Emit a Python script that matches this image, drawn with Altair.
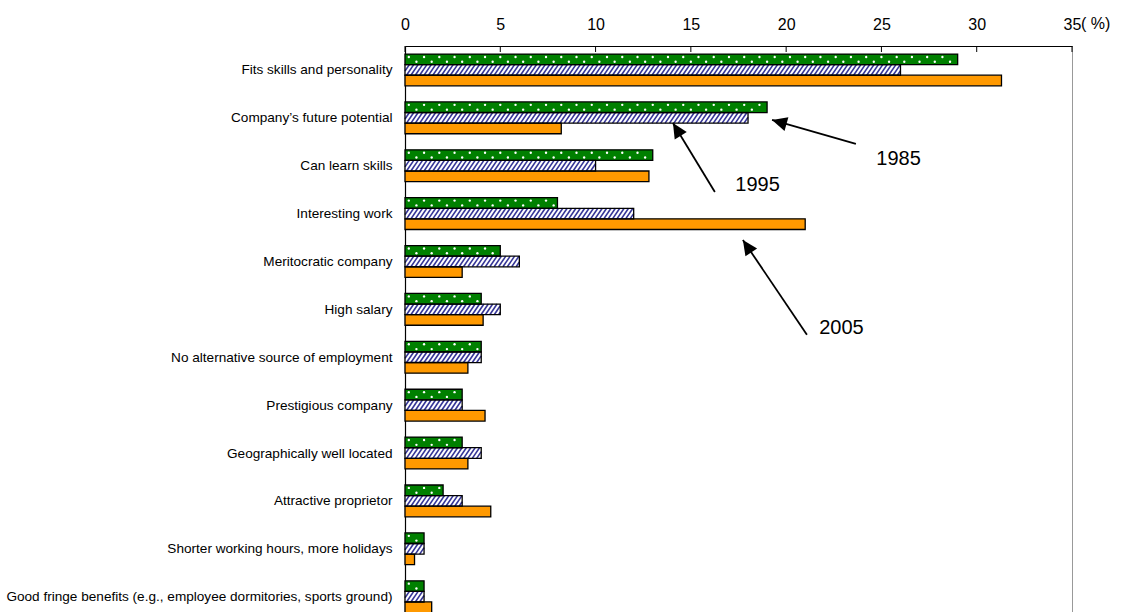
import json
import math

import altair as alt
import pandas as pd

# Reasons for choosing an employer, share of respondents (%)
categories = [
    "Fits skills and personality",
    "Company\u2019s future potential",
    "Can learn skills",
    "Interesting work",
    "Meritocratic company",
    "High salary",
    "No alternative source of employment",
    "Prestigious company",
    "Geographically well located",
    "Attractive proprietor",
    "Shorter working hours, more holidays",
    "Good fringe benefits (e.g., employee dormitories, sports ground)",
]
years = ["1985", "1995", "2005"]
share_1985 = [29, 19, 13, 8, 5, 4, 4, 3, 3, 2, 1, 1]
share_1995 = [26, 18, 10, 12, 6, 5, 4, 3, 4, 3, 1, 1]
share_2005 = [31.3, 8.2, 12.8, 21, 3.0, 4.1, 3.3, 4.2, 3.3, 4.5, 0.5, 1.4]
x_ticks = [0, 5, 10, 15, 20, 25, 30, 35]

# Callouts naming each survey year (data coordinates: x in %, y in category rows)
ann_labels = ["1985", "1995", "2005"]
ann_text_x = [25.9, 18.5, 22.9]
ann_text_y = [1.86, 2.40, 5.39]
ann_tail_x = [23.66, 16.26, 21.09]
ann_tail_y = [1.546, 2.548, 5.53]
ann_tip_x = [19.26, 14.06, 17.73]
ann_tip_y = [1.045, 1.107, 3.55]

# Layout
W, H = 667, 566
X_DOMAIN = [0, 35]
Y_DOMAIN = [-0.5, 11.32]
PX_X = W / (X_DOMAIN[1] - X_DOMAIN[0])
PX_Y = H / (Y_DOMAIN[1] - Y_DOMAIN[0])
HALF = 0.111          # half bar thickness in row units
STEP = 0.221          # distance between bars of one group
FONT = "Liberation Sans"

series = [share_1985, share_1995, share_2005]
rows = []
for k, _ in enumerate(categories):
    for s, vals in enumerate(series):
        rows.append({"k": k, "s": s, "year": years[s], "v": vals[k]})
df = pd.DataFrame(rows)

ann = pd.DataFrame({
    "label": ann_labels, "tx": ann_text_x, "ty": ann_text_y,
    "x0": ann_tail_x, "y0": ann_tail_y, "x1": ann_tip_x, "y1": ann_tip_y,
})
# clockwise rotation of an upward arrowhead so that it points from tail to tip
ann["ang"] = [
    (math.degrees(math.atan2((x1 - x0) * PX_X, -(y1 - y0) * PX_Y)) + 360) % 360
    for x0, y0, x1, y1 in zip(ann.x0, ann.y0, ann.x1, ann.y1)
]
ticks_df = pd.DataFrame({"t": x_ticks})

xs = alt.Scale(domain=X_DOMAIN, nice=False, zero=False)
ys = alt.Scale(domain=Y_DOMAIN, nice=False, zero=False, reverse=True)

label_expr = "%s[datum.value]" % json.dumps(categories)

# one shared axis definition per direction, used by every layer
x_axis = alt.Axis(
    orient="top", values=x_ticks, title=None, ticks=False, grid=False,
    domainColor="#000000", domainWidth=1.2, labelFont=FONT, labelFontSize=16,
    labelColor="#000000", labelPadding=14, labelFlush=False, format="d",
)
y_axis = alt.Axis(
    orient="left", values=list(range(len(categories))), title=None,
    ticks=False, grid=False, domainColor="#000000", domainWidth=1.2,
    labelExpr=label_expr, labelFont=FONT, labelFontSize=13.6,
    labelColor="#000000", labelPadding=13, labelFlush=False, labelOverlap=False,
    labelLimit=0,
)


def X(field):
    return alt.X(field, scale=xs, axis=x_axis, title=None)


def Y(field):
    return alt.Y(field, scale=ys, axis=y_axis, title=None)


base = alt.Chart(df).transform_calculate(
    yc=f"datum.k + (datum.s - 1) * {STEP}",
    ya=f"datum.k + (datum.s - 1) * {STEP} - {HALF}",
    yb=f"datum.k + (datum.s - 1) * {STEP} + {HALF}",
    x0="0",
)

fills = base.mark_rect(strokeWidth=0).encode(
    x=X("x0:Q"), x2="v:Q",
    y=Y("ya:Q"), y2="yb:Q",
    fill=alt.Fill("year:N", scale=alt.Scale(domain=years, range=["#008000", "#ffffff", "#ff9900"]), legend=None),
)

# diagonal hatching for 1995 bars
SLANT = 0.38
GAP = 0.23
hatch = base.transform_filter("datum.s == 1").transform_calculate(
    st=f"sequence({-SLANT}, datum.v, {GAP})"
).transform_flatten(["st"]).transform_calculate(
    xa="max(datum.st, 0)",
    xb=f"min(datum.st + {SLANT}, datum.v)",
).transform_calculate(
    hya=f"datum.yb - (datum.xa - datum.st) / {SLANT} * {2 * HALF}",
    hyb=f"datum.yb - (datum.xb - datum.st) / {SLANT} * {2 * HALF}",
).transform_filter("datum.xb > datum.xa").mark_rule(
    color="#353597", strokeWidth=1.6
).encode(
    x=X("xa:Q"), x2="xb:Q",
    y=Y("hya:Q"), y2="hyb:Q",
)

# white dots for 1985 bars
dots = base.transform_filter("datum.s == 0").transform_calculate(
    st="sequence(0.2, datum.v - 0.1, 0.4)"
).transform_flatten(["st"]).transform_calculate(
    row="round(datum.st / 0.4 - 0.5) % 2",
).transform_calculate(
    dy="datum.yc + (datum.row == 0 ? -0.05 : 0.05)",
).mark_circle(color="#ffffff", size=5.5, opacity=1).encode(
    x=X("st:Q"), y=Y("dy:Q"),
)

outlines = base.mark_rect(fillOpacity=0, stroke="#000000", strokeWidth=1.3).encode(
    x=X("x0:Q"), x2="v:Q",
    y=Y("ya:Q"), y2="yb:Q",
)

tick_marks = alt.Chart(ticks_df).mark_rule(color="#000000", strokeWidth=1).encode(
    x=X("t:Q"), y=alt.value(0), y2=alt.value(6),
)

pct = alt.Chart(ticks_df).transform_filter(f"datum.t == {x_ticks[-1]}").mark_text(
    text="( %)", align="left", baseline="bottom", dx=9, font=FONT, fontSize=16, color="#000000",
).encode(x=X("t:Q"), y=alt.value(-14))

arrow_lines = alt.Chart(ann).mark_rule(color="#000000", strokeWidth=1.8).encode(
    x=X("x0:Q"), x2="x1:Q",
    y=Y("y0:Q"), y2="y1:Q",
)
arrow_heads = alt.Chart(ann).mark_point(
    shape="M0,0L0.47,1L-0.47,1Z", filled=True, fill="#000000", strokeWidth=0, size=900, opacity=1,
).encode(
    x=X("x1:Q"), y=Y("y1:Q"),
    angle=alt.Angle("ang:Q", scale=None),
)
ann_text = alt.Chart(ann).mark_text(
    font=FONT, fontSize=20, align="center", baseline="middle", color="#000000",
).encode(
    x=X("tx:Q"), y=Y("ty:Q"),
    text="label:N",
)

chart = alt.layer(
    fills, hatch, dots, outlines, tick_marks, pct, arrow_lines, arrow_heads, ann_text
).properties(
    width=W, height=H,
    autosize=alt.AutoSizeParams(type="none"),
    padding={"left": 405, "top": 46, "right": 53, "bottom": 0},
    background="#ffffff",
).configure_view(stroke="#999999", strokeWidth=1)

chart.save("out.html", embed_options={"renderer": "svg", "actions": False})
